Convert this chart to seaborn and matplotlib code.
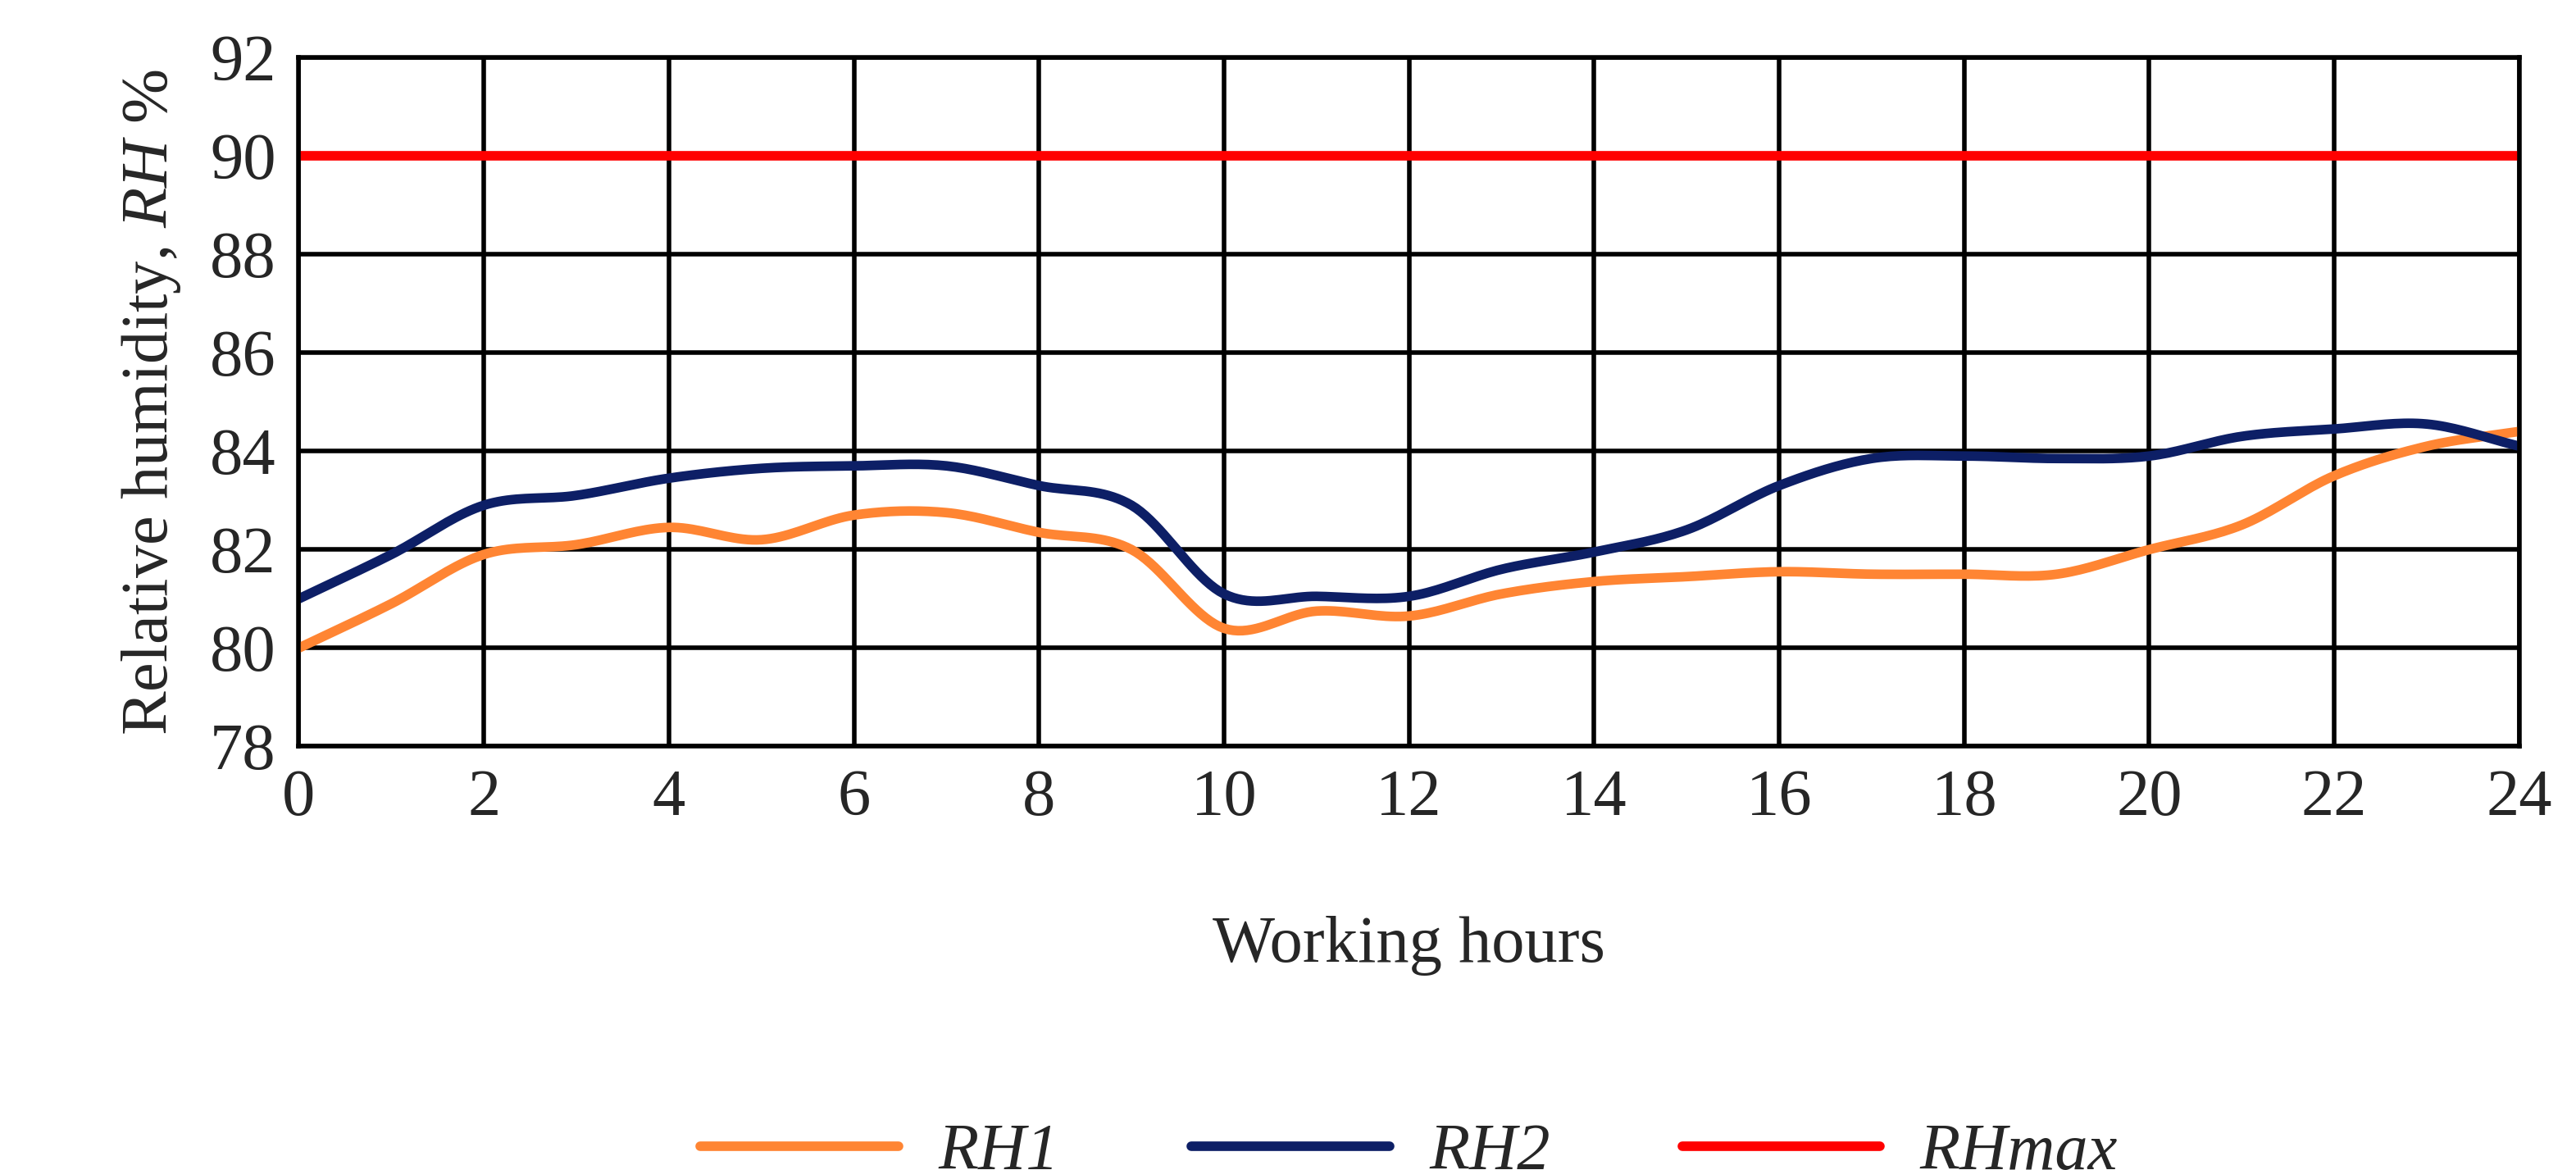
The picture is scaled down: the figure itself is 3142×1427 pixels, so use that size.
import matplotlib
matplotlib.use('Agg')
import matplotlib.pyplot as plt
import seaborn as sns
import pandas as pd
import numpy as np

hours = list(range(25))
rh1 = [80.0, 80.9, 81.9, 82.1, 82.45, 82.2, 82.7, 82.75, 82.35, 82.0, 80.4, 80.75, 80.65,
       81.1, 81.35, 81.45, 81.55, 81.5, 81.5, 81.5, 82.0, 82.5, 83.5, 84.1, 84.4]
rh2 = [81.0, 81.9, 82.9, 83.1, 83.45, 83.65, 83.7, 83.7, 83.3, 82.9, 81.1, 81.05, 81.05,
       81.6, 81.95, 82.4, 83.3, 83.85, 83.9, 83.85, 83.9, 84.3, 84.45, 84.55, 84.1]
rh_max = 90

sns.set_style('white')
plt.rcParams['font.family'] = ['Liberation Serif', 'DejaVu Serif']
plt.rcParams['mathtext.fontset'] = 'custom'
plt.rcParams['mathtext.it'] = 'Liberation Serif:italic'
plt.rcParams['mathtext.rm'] = 'Liberation Serif'


def smooth(x, y, n=20):
    # Catmull-Rom curve through the points, like Excel's smoothed line
    x = np.asarray(x, float); y = np.asarray(y, float)
    px = np.concatenate([[2 * x[0] - x[1]], x, [2 * x[-1] - x[-2]]])
    py = np.concatenate([[2 * y[0] - y[1]], y, [2 * y[-1] - y[-2]]])
    xs, ys = [], []
    t = np.linspace(0, 1, n, endpoint=False)
    for i in range(1, len(px) - 2):
        for p, out in ((px, xs), (py, ys)):
            p0, p1, p2, p3 = p[i - 1], p[i], p[i + 1], p[i + 2]
            out.extend(0.5 * (2 * p1 + (-p0 + p2) * t + (2 * p0 - 5 * p1 + 4 * p2 - p3) * t ** 2
                              + (-p0 + 3 * p1 - 3 * p2 + p3) * t ** 3))
    xs.append(x[-1]); ys.append(y[-1])
    return np.array(xs), np.array(ys)


fig = plt.figure(figsize=(15.71, 7.135), dpi=200)
ax = fig.add_axes([0.116, 0.362, 0.862, 0.589])

frames = []
for name, vals in (('RH1', rh1), ('RH2', rh2), ('RHmax', [rh_max] * len(hours))):
    sx, sy = smooth(hours, vals)
    frames.append(pd.DataFrame({'h': sx, 'v': sy, 's': name}))
df = pd.concat(frames)
sns.lineplot(data=df, x='h', y='v', hue='s', palette={'RH1': '#FF8533', 'RH2': '#0D1F66', 'RHmax': '#FF0000'},
             linewidth=4.2, ax=ax, sort=False, estimator=None)

ax.set_xlim(0, 24)
ax.set_ylim(78, 92)
ax.set_xticks(range(0, 25, 2))
ax.set_yticks(range(78, 93, 2))
ax.grid(True, color='black', linewidth=2.0)
for s in ax.spines.values():
    s.set_color('black'); s.set_linewidth(2.0)
ax.tick_params(labelsize=29, length=0, pad=10)
ax.set_xlabel('Working hours', fontsize=29, labelpad=38)
ax.set_ylabel(r'Relative humidity, $\it{RH}$ %', fontsize=29, labelpad=12)

h, l = ax.get_legend_handles_labels()
leg = ax.legend(h, l, loc='upper center', bbox_to_anchor=(0.5, -0.46), ncol=3, frameon=False,
                fontsize=29, handlelength=3.0, columnspacing=2.0, handletextpad=0.6)
for t in leg.get_texts():
    t.set_fontstyle('italic')

fig.savefig('out.png', dpi=200)
